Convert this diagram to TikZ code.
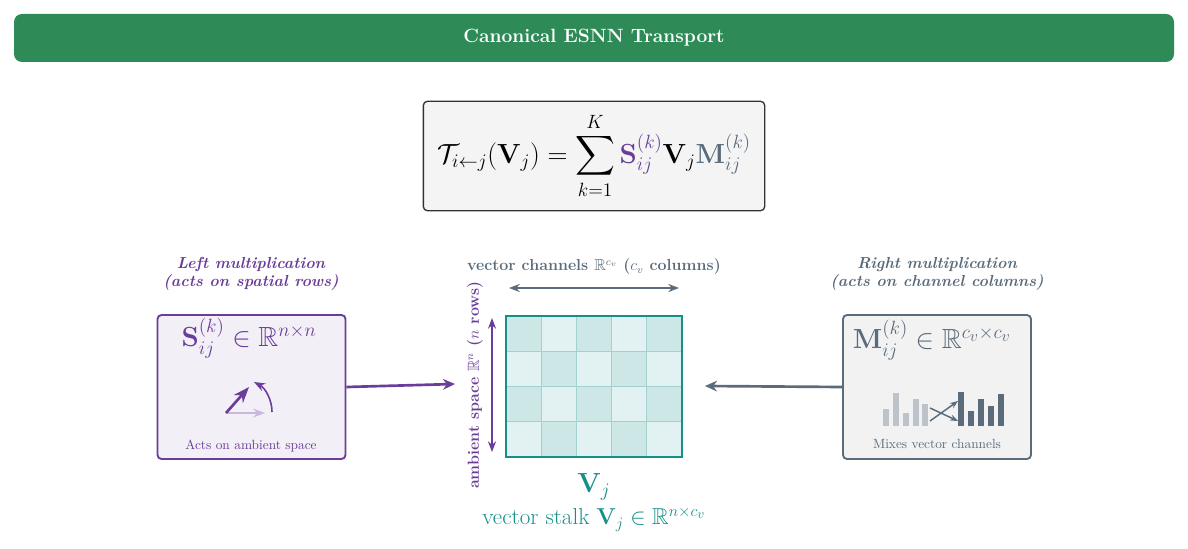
\documentclass[tikz,border=0pt]{standalone}
\usepackage{amsmath,amssymb}
\usetikzlibrary{arrows.meta}
\definecolor{esgreen}{HTML}{2E8B57}
\definecolor{espurple}{HTML}{6A3D9A}
\definecolor{eslpurple}{HTML}{C9B8E0}
\definecolor{esslate}{HTML}{5A6B7B}
\definecolor{eslslate}{HTML}{BCC3CA}
\definecolor{esteal}{HTML}{168F88}
\definecolor{celldark}{HTML}{CDE6E6}
\definecolor{celllight}{HTML}{E2F1F1}
\tikzset{
  panel/.style={rounded corners=3pt, line width=1.4pt},
  caption/.style={font=\bfseries\itshape\large, align=center, inner sep=1pt},
  flow/.style={-{Stealth[length=9pt,width=8pt]}, line width=2pt},
}
\begin{document}
\begin{tikzpicture}[x=0.75pt,y=-0.75pt]
                \useasboundingbox (0,0) rectangle (1188,549);
                %titulo
                \node[fill=esgreen, rounded corners=6pt, minimum width=870pt, minimum height=36pt,
                  text=white, font=\Large\bfseries] (title) at (594,38) {Canonical ESNN Transport};
                %formula
                \node[panel, draw=black!80, fill=blue!3!gray!8, line width=1pt, minimum width=256pt, minimum height=82pt,
                  font=\huge] (eq) at (594,156)
                  {$\mathcal{T}_{i\leftarrow j}(\mathbf{V}_j)=\displaystyle\sum_{k=1}^{K}\textcolor{espurple}{\mathbf{S}_{ij}^{(k)}}\mathbf{V}_j\textcolor{esslate}{\mathbf{M}_{ij}^{(k)}}$};
                %caja izquierda
                \node[panel, draw=espurple, fill=espurple!8, minimum width=141pt, minimum height=108pt] (left) at (251.5,387) {};
                \node[text=espurple, font=\huge] (Slab) at (249,338) {$\mathbf{S}_{ij}^{(k)}\in\mathbb{R}^{n\times n}$};
                \node[text=espurple, font=\normalsize] (Stxt) at (251,446) {Acts on ambient space};
                \node[caption, text=espurple] (Scap) at (251,274) {Left multiplication\\(acts on spatial rows)};
                \coordinate (o) at (226,413);
                \draw[-{Stealth}, line width=1.3pt, eslpurple] (o) -- (265,413);
                \draw[-{Stealth}, line width=2pt, espurple] (o) -- (249,387);
                \draw[-{Stealth}, line width=1.2pt, espurple] (272,412) arc (0:-62:34);
                %matriz
                \foreach \r in {0,...,3}
                  \foreach \c in {0,...,4}{
                    \pgfmathtruncatemacro{\parity}{mod(\r+\c,2)}
                    \ifnum\parity=0 \def\cc{celldark}\else\def\cc{celllight}\fi
                    \fill[\cc] (506+\c*35.2,316+\r*35.25) rectangle ++(35.2,35.25);
                  }
                \foreach \c in {1,...,4} \draw[esteal!40, line width=0.8pt] (506+\c*35.2,316) -- (506+\c*35.2,457);
                \foreach \r in {1,...,3} \draw[esteal!40, line width=0.8pt] (506,316+\r*35.25) -- (682,316+\r*35.25);
                \draw[esteal, line width=1.6pt] (506,316) rectangle (682,457);
                \coordinate (mW) at (455,384);
                \coordinate (mE) at (705,386);
                \node[text=esteal, font=\huge] (Vj) at (594,487) {$\mathbf{V}_j$};
                \node[text=esteal, font=\LARGE] (stalk) at (594,519) {vector stalk $\mathbf{V}_j\in\mathbb{R}^{n\times c_v}$};
                \coordinate (hl) at (509,288);
                \coordinate (hr) at (679,288);
                \draw[{Stealth[length=8pt]}-{Stealth[length=8pt]}, esslate, line width=1.3pt] (hl) -- (hr);
                \node[text=esslate, font=\bfseries\large] (hlab) at (594,267) {vector channels $\mathbb{R}^{c_v}$ ($c_v$ columns)};
                \coordinate (vt) at (492,318);
                \coordinate (vb) at (492,452);
                \draw[{Stealth[length=8pt]}-{Stealth[length=8pt]}, espurple, line width=1.3pt] (vt) -- (vb);
                \node[text=espurple, font=\bfseries\large, rotate=90] (vlab) at (475,385) {ambient space $\mathbb{R}^{n}$ ($n$ rows)};
                %caja derecha
                \node[panel, draw=esslate, fill=gray!10, minimum width=141pt, minimum height=108pt] (right) at (937,387) {};
                \node[text=esslate, font=\huge] (Mlab) at (932,340) {$\mathbf{M}_{ij}^{(k)}\in\mathbb{R}^{c_v\times c_v}$};
                \node[text=esslate, font=\normalsize] (Mtxt) at (937,444) {Mixes vector channels};
                \node[caption, text=esslate] (Mcap) at (937,274) {Right multiplication\\(acts on channel columns)};
                \foreach \x/\h in {883/17,893/33,903/13,913/27,922/22}
                  \fill[eslslate] (\x,426) rectangle ++(6,-\h);
                \foreach \x/\h in {958/34,968/15,978/27,988/20,998/32}
                  \fill[esslate] (\x,426) rectangle ++(6,-\h);
                \draw[-{Stealth[length=6pt]}, esslate, line width=1.1pt] (930,408) -- (958,421);
                \draw[-{Stealth[length=6pt]}, esslate, line width=1.1pt] (930,421) -- (958,401);
                %flechas
                \draw[flow, espurple] (left.east) -- (mW);
                \draw[flow, esslate] (right.west) -- (mE);
\end{tikzpicture}
\end{document}
